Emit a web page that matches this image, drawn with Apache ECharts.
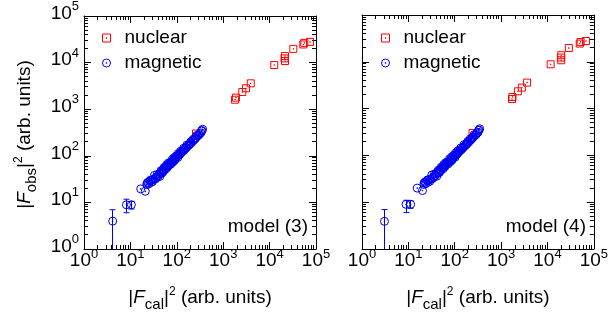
<!DOCTYPE html>
<html>
<head>
<meta charset="utf-8">
<script src="https://cdn.jsdelivr.net/npm/echarts@6/dist/echarts.min.js"></script>
<style>
html,body{margin:0;padding:0;background:#fff;}
#c{width:611px;height:320px;}
</style>
</head>
<body>
<div id="c"></div>
<script>
// ---------- data ----------
const tickExponents = [0, 1, 2, 3, 4, 5];
const panelLabels = ['model (3)', 'model (4)'];
const seriesNames = ['nuclear', 'magnetic'];

// model (3)
const nuclear3X = [1880, 1800, 2580, 3100, 3920, 12600, 21500, 21000, 21500, 32400, 53200, 56000, 74300, 259];
const nuclear3Y = [1770, 1600, 2340, 2810, 3590, 8850, 13800, 12300, 10800, 19700, 24500, 26500, 27800, 301];
const magnetic3X = [4.15, 8.2, 10.5, 16.7, 20.9, 22.5, 24, 25, 26.5, 28, 29, 31, 33, 35, 37, 40, 43, 45, 47, 50, 52, 55, 58, 61, 64, 67, 70, 74, 78, 82, 86, 90, 95, 100, 105, 110, 116, 122, 128, 135, 142, 150, 160, 170, 180, 192, 205, 218, 230, 245, 260, 280, 300, 330, 345, 360,
  23, 27, 30, 34, 38, 42, 46, 49, 53, 57, 60, 63, 66, 72, 76, 80, 88, 92, 98, 108, 114, 120, 132, 140, 155, 165, 185, 200, 225, 250, 270, 310, 340];
const magnetic3Y = [3.97, 8.9, 8.9, 19.5, 17.3, 24, 27, 25, 29, 27, 30, 31, 38, 32, 35, 37, 36, 45, 42, 50, 47, 54, 52, 58, 60, 63, 68, 66, 75, 73, 82, 80, 88, 95, 92, 103, 108, 115, 120, 128, 132, 140, 150, 160, 168, 180, 190, 205, 215, 230, 245, 265, 280, 310, 350, 370,
  26, 30, 28, 33, 40, 41, 48, 44, 56, 55, 64, 57, 70, 72, 70, 84, 92, 85, 100, 112, 105, 125, 130, 145, 148, 170, 175, 200, 225, 240, 275, 300, 340];
const err3X = [4.15, 8.2, 10.5];
const err3Lo = [0.2, 6.0, 7.2];
const err3Hi = [6.95, 11.7, 10.5];

// model (4)
const nuclear4X = [1760, 1720, 2300, 2800, 3640, 11700, 19800, 19500, 19800, 28900, 49700, 52000, 67700, 242];
const nuclear4Y = [1770, 1600, 2340, 2810, 3590, 8850, 13800, 12300, 10800, 19700, 24500, 26500, 27800, 301];
const magnetic4X = [3.05, 8.9, 11.2, 15.5, 20.2, 21.6, 23, 24, 25.5, 27, 28, 30, 32, 33.5, 35.5, 38, 41, 43, 45, 48, 50, 53, 56, 59, 62, 65, 68, 72, 76, 80, 84, 88, 93, 97, 102, 107, 113, 118, 124, 131, 138, 146, 155, 165, 175, 186, 198, 210, 222, 236, 250, 270, 290, 318, 332, 345,
  22, 26, 29, 33, 36.5, 40, 44, 47, 51, 55, 58, 61, 64, 69, 73, 77, 85, 89, 94, 104, 110, 116, 127, 135, 149, 159, 178, 192, 216, 240, 260, 298, 326];
const magnetic4Y = [3.9, 9.0, 9.0, 20, 17.7, 24, 27, 25, 29, 27, 30, 31, 38, 32, 35, 37, 36, 45, 42, 50, 47, 54, 52, 58, 60, 63, 68, 66, 75, 73, 82, 80, 88, 95, 92, 103, 108, 115, 120, 128, 132, 140, 150, 160, 168, 180, 190, 205, 215, 230, 245, 265, 280, 310, 350, 370,
  26, 30, 28, 33, 40, 41, 48, 44, 56, 55, 64, 57, 70, 72, 70, 84, 92, 85, 100, 112, 105, 125, 130, 145, 148, 170, 175, 200, 225, 240, 275, 300, 340];
const err4X = [3.05, 8.9, 11.2];
const err4Lo = [0.2, 6.0, 7.4];
const err4Hi = [6.95, 11.0, 10.8];

// ---------- helpers ----------
const FONT = "'Liberation Sans', Arial, Helvetica, sans-serif";
const RED = '#ff0000';
const BLUE = '#0000f0';
const SQUARE = 'path://M0,0H10V10H0Z M4.6,4.6H5.4V5.4H4.6Z';
const CIRCLE = 'path://M10,5A5,5 0 1,1 0,5A5,5 0 1,1 10,5Z M4.6,4.6H5.4V5.4H4.6Z';

const minorVals = [];
for (let e = 0; e < tickExponents.length - 1; e++) {
  for (let m = 2; m <= 9; m++) minorVals.push(m * Math.pow(10, tickExponents[e]));
}

const tickRich = {
  b: {fontSize: 19, fontFamily: FONT, color: '#000', lineHeight: 20},
  s: {fontSize: 13, fontFamily: FONT, color: '#000', lineHeight: 13, padding: [0, 0, 14, 0]}
};
const titleRich = {
  n: {fontSize: 19, fontFamily: FONT, color: '#000', lineHeight: 24},
  i: {fontSize: 19, fontFamily: FONT, color: '#000', lineHeight: 24, fontStyle: 'italic'},
  sub: {fontSize: 15, fontFamily: FONT, color: '#000', lineHeight: 15, padding: [13, 0, 0, 0]},
  sup: {fontSize: 12, fontFamily: FONT, color: '#000', lineHeight: 12, padding: [0, 0, 13, 0]}
};
function powLabel(v) {
  const e = Math.round(Math.log10(v));
  return '{b|10}{s|' + e + '}';
}
const xTitle = '{n||}{i|F}{sub|cal}{n||}{sup|2}{n| (arb. units)}';
const yTitle = '{n||}{i|F}{sub|obs}{n||}{sup|2}{n| (arb. units)}';

function mkAxis(dim, grid, pos, labels, title) {
  const ax = {
    type: 'log', logBase: 10, min: 1, max: 100000, splitNumber: 5,
    gridIndex: grid, position: pos,
    splitLine: {show: false},
    axisLine: {show: true, onZero: false, lineStyle: {color: '#000', width: 1}},
    axisTick: {show: true, inside: true, length: 7, lineStyle: {color: '#000', width: 1}},
    axisLabel: {show: labels, formatter: powLabel, rich: tickRich, color: '#000',
      margin: dim === 'x' ? 2 : 5, showMinLabel: true, showMaxLabel: true,
      padding: dim === 'x' ? 0 : [0, 0, 5, 0]},
    axisPointer: {show: false}
  };
  if (title) {
    ax.name = title;
    ax.nameLocation = 'middle';
    ax.nameTextStyle = {rich: titleRich, color: '#000'};
    if (dim === 'x') {
      ax.nameGap = 37;
    } else {
      ax.nameGap = 47;
      ax.nameRotate = 90;
      ax.nameTextStyle.padding = [0, 4, 0, 0];
    }
  }
  return ax;
}

function minorTickRender(params, api) {
  const v = api.value(0);
  const cs = params.coordSys;
  const L = 4;
  const st = {stroke: '#000', lineWidth: 1};
  const children = [];
  const px = Math.round(api.coord([v, 1])[0] - 0.5) + 0.5;
  const py = Math.round(api.coord([1, v])[1] - 0.5) + 0.5;
  const bottom = cs.y + cs.height, right = cs.x + cs.width;
  children.push({type: 'line', shape: {x1: px, y1: bottom, x2: px, y2: bottom - L}, style: st});
  children.push({type: 'line', shape: {x1: px, y1: cs.y, x2: px, y2: cs.y + L}, style: st});
  children.push({type: 'line', shape: {x1: cs.x, y1: py, x2: cs.x + L, y2: py}, style: st});
  children.push({type: 'line', shape: {x1: right, y1: py, x2: right - L, y2: py}, style: st});
  return {type: 'group', children: children};
}

function errRender(params, api) {
  const x = api.value(0), lo = api.value(1), hi = api.value(2);
  const cs = params.coordSys;
  const bottom = cs.y + cs.height;
  const top = api.coord([x, hi]);
  const low = api.coord([x, lo]);
  const st = {stroke: BLUE, lineWidth: 1};
  const cx = Math.round(top[0] - 0.5) + 0.5;
  const children = [];
  const yLow = Math.min(low[1], bottom);
  children.push({type: 'line', shape: {x1: cx, y1: top[1], x2: cx, y2: yLow}, style: st});
  children.push({type: 'line', shape: {x1: cx - 3, y1: top[1], x2: cx + 3, y2: top[1]}, style: st});
  if (low[1] <= bottom) {
    children.push({type: 'line', shape: {x1: cx - 3, y1: low[1], x2: cx + 3, y2: low[1]}, style: st});
  }
  return {type: 'group', children: children};
}

function zip(a, b) { return a.map((v, i) => [v, b[i]]); }
function zip3(a, b, c) { return a.map((v, i) => [v, b[i], c[i]]); }

function panelSeries(p, nx, ny, mx, my, ex, elo, ehi) {
  const xi = p * 2, yi = p * 2;
  return [
    {type: 'custom', name: 'minor' + p, xAxisIndex: xi, yAxisIndex: yi, silent: true,
      renderItem: minorTickRender, data: minorVals.map(v => [v]), clip: false, z: 1},
    {type: 'scatter', name: seriesNames[0], xAxisIndex: xi, yAxisIndex: yi,
      symbol: SQUARE, symbolSize: 7, data: zip(nx, ny),
      itemStyle: {color: 'rgba(0,0,0,0)', borderColor: RED, borderWidth: 1, opacity: 1}, z: 3},
    {type: 'custom', name: 'err' + p, xAxisIndex: xi, yAxisIndex: yi, silent: true,
      renderItem: errRender, data: zip3(ex, elo, ehi), clip: false, z: 4},
    {type: 'scatter', name: seriesNames[1], xAxisIndex: xi, yAxisIndex: yi,
      symbol: CIRCLE, symbolSize: 8, data: zip(mx, my),
      itemStyle: {color: 'rgba(0,0,0,0)', borderColor: BLUE, borderWidth: 1, opacity: 1}, z: 5}
  ];
}

const chart = echarts.init(document.getElementById('c'), null, {renderer: 'canvas'});
const legendBase = {
  orient: 'vertical', top: 22, itemWidth: 8, itemHeight: 8, itemGap: 3,
  data: [
    {name: seriesNames[0], icon: SQUARE, itemStyle: {color: 'rgba(0,0,0,0)', borderColor: RED, borderWidth: 1}},
    {name: seriesNames[1], icon: CIRCLE, itemStyle: {color: 'rgba(0,0,0,0)', borderColor: BLUE, borderWidth: 1}}
  ],
  selectedMode: false,
  textStyle: {fontSize: 19, fontFamily: FONT, color: '#000', lineHeight: 22, padding: [0, 0, 0, 9]}
};
const option = {
  animation: false,
  backgroundColor: '#fff',
  textStyle: {fontFamily: FONT},
  grid: [
    {left: 84, top: 15, width: 232, height: 234},
    {left: 362, top: 15, width: 233, height: 234}
  ],
  legend: [
    Object.assign({}, legendBase, {left: 97}),
    Object.assign({}, legendBase, {left: 376})
  ],
  xAxis: [
    mkAxis('x', 0, 'bottom', true, xTitle),
    mkAxis('x', 0, 'top', false, null),
    mkAxis('x', 1, 'bottom', true, xTitle),
    mkAxis('x', 1, 'top', false, null)
  ],
  yAxis: [
    mkAxis('y', 0, 'left', true, yTitle),
    mkAxis('y', 0, 'right', false, null),
    mkAxis('y', 1, 'left', false, null),
    mkAxis('y', 1, 'right', false, null)
  ],
  graphic: [
    {type: 'text', right: 611 - 308, top: 217, style: {text: panelLabels[0], font: '19px ' + FONT, fill: '#000'}},
    {type: 'text', right: 611 - 586, top: 217, style: {text: panelLabels[1], font: '19px ' + FONT, fill: '#000'}}
  ],
  series: [].concat(
    panelSeries(0, nuclear3X, nuclear3Y, magnetic3X, magnetic3Y, err3X, err3Lo, err3Hi),
    panelSeries(1, nuclear4X, nuclear4Y, magnetic4X, magnetic4Y, err4X, err4Lo, err4Hi)
  )
};
chart.setOption(option);
</script>
</body>
</html>
